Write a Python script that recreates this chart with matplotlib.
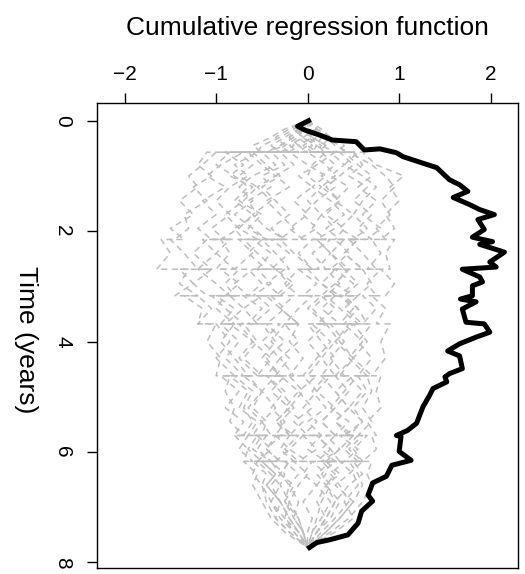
import matplotlib
matplotlib.use('Agg')
import matplotlib.pyplot as plt
import numpy as np

plt.rcParams['font.family'] = ['Liberation Sans', 'DejaVu Sans']

# observed cumulative regression function (value, time)
obs_value = [0.01, -0.11, -0.03, 0.13, 0.27, 0.53, 0.62, 0.79, 0.97, 1.04, 1.26, 1.41,
             1.55, 1.66, 1.75, 1.59, 1.77, 1.88, 2.04, 1.86, 1.93, 1.80, 2.02, 1.88,
             2.15, 1.99, 2.06, 1.69, 1.88, 1.91, 1.80, 1.80, 1.67, 1.84, 1.69, 1.73,
             1.93, 1.99, 1.84, 1.66, 1.53, 1.66, 1.69, 1.55, 1.50, 1.52, 1.37, 1.33,
             1.26, 1.19, 1.09, 0.97, 1.02, 1.00, 1.13, 0.92, 0.86, 0.71, 0.66, 0.71,
             0.59, 0.55, 0.44, 0.24, 0.10, 0.02]
obs_time = [0.00, 0.10, 0.17, 0.26, 0.35, 0.38, 0.53, 0.51, 0.58, 0.65, 0.77, 0.85,
            1.07, 1.16, 1.28, 1.39, 1.52, 1.61, 1.70, 1.79, 1.97, 2.11, 2.19, 2.24,
            2.38, 2.56, 2.65, 2.69, 2.83, 2.92, 2.99, 3.17, 3.23, 3.28, 3.41, 3.65,
            3.68, 3.83, 3.92, 4.04, 4.17, 4.26, 4.49, 4.58, 4.64, 4.73, 4.85, 4.98,
            5.18, 5.48, 5.61, 5.70, 5.72, 5.99, 6.15, 6.24, 6.44, 6.56, 6.78, 6.89,
            7.07, 7.29, 7.50, 7.59, 7.64, 7.73]

# time grid of the resampled paths (repeated times are common jumps)
sim_time = [0, 0.15, 0.3, 0.45, 0.57, 0.57, 0.8, 1.0, 1.2, 1.45, 1.7, 1.95, 2.15, 2.15,
            2.4, 2.69, 2.69, 2.95, 3.17, 3.17, 3.4, 3.68, 3.68, 4.0, 4.3, 4.62, 4.62,
            4.9, 5.2, 5.45, 5.7, 5.7, 5.95, 6.17, 6.17, 6.4, 6.6, 6.9, 7.2, 7.45, 7.73]

sim_paths = [
    [0, -0.15, -0.3, -0.5, -0.55, -1.1, -1.2, -1.05, -1.25, -1.1, -1.35, -1.3, -1.45, -1.6, -1.5, -1.65, -1.3, -1.4, -1.2, -1.35, -1.15, -1.2, -1.0, -1.1, -0.95, -1.0, -0.85, -0.9, -0.8, -0.85, -0.7, -0.8, -0.65, -0.7, -0.55, -0.6, -0.5, -0.45, -0.35, -0.2, 0],
    [0, 0.1, 0.2, 0.35, 0.4, 0.6, 0.75, 1.05, 0.9, 1.0, 0.85, 0.95, 0.8, 0.95, 0.85, 0.9, 0.8, 0.95, 0.85, 0.7, 0.85, 0.75, 0.9, 0.8, 0.85, 0.7, 0.8, 0.75, 0.8, 0.65, 0.75, 0.7, 0.75, 0.6, 0.7, 0.65, 0.7, 0.6, 0.45, 0.25, 0],
    [0, -0.1, 0.05, -0.1, 0.0, -0.4, -0.25, -0.5, -0.4, -0.65, -0.55, -0.8, -0.7, -0.95, -0.85, -1.0, -0.75, -0.9, -0.8, -1.05, -0.9, -0.7, -0.85, -0.6, -0.75, -0.55, -0.7, -0.5, -0.6, -0.45, -0.5, -0.35, -0.45, -0.3, -0.4, -0.25, -0.3, -0.2, -0.25, -0.1, 0],
    [0, 0.05, 0.15, 0.1, 0.2, 0.0, 0.2, 0.3, 0.15, 0.35, 0.2, 0.4, 0.3, 0.1, 0.25, 0.45, 0.3, 0.5, 0.35, 0.55, 0.4, 0.6, 0.45, 0.3, 0.5, 0.35, 0.55, 0.4, 0.25, 0.45, 0.3, 0.5, 0.35, 0.2, 0.4, 0.25, 0.35, 0.45, 0.3, 0.15, 0],
    [0, -0.2, -0.35, -0.25, -0.45, -0.9, -0.7, -0.85, -0.6, -0.75, -0.5, -0.65, -0.45, -0.7, -0.55, -0.35, -0.55, -0.4, -0.6, -0.4, -0.25, -0.45, -0.3, -0.5, -0.3, -0.45, -0.25, -0.4, -0.2, -0.35, -0.15, -0.3, -0.45, -0.3, -0.5, -0.35, -0.45, -0.3, -0.35, -0.2, 0],
    [0, 0.1, -0.05, 0.1, 0.05, 0.3, 0.1, -0.1, 0.05, -0.15, 0.0, -0.2, -0.05, -0.3, -0.15, 0.05, -0.1, 0.1, -0.05, 0.15, 0.0, 0.2, 0.05, 0.25, 0.1, -0.05, 0.1, -0.1, 0.05, -0.15, 0.0, 0.15, 0.0, 0.2, 0.05, 0.2, 0.1, 0.25, 0.15, 0.05, 0],
    [0, -0.1, -0.25, -0.4, -0.3, -0.7, -0.95, -1.1, -0.9, -1.15, -1.0, -1.2, -1.05, -0.85, -1.0, -1.2, -1.05, -1.25, -1.1, -0.9, -1.0, -0.8, -0.95, -0.75, -0.9, -0.7, -0.85, -0.65, -0.75, -0.55, -0.65, -0.5, -0.6, -0.4, -0.5, -0.35, -0.45, -0.3, -0.2, -0.1, 0],
    [0, 0.15, 0.25, 0.4, 0.3, 0.5, 0.6, 0.45, 0.65, 0.5, 0.7, 0.55, 0.7, 0.55, 0.4, 0.6, 0.45, 0.3, 0.5, 0.35, 0.55, 0.4, 0.2, 0.35, 0.5, 0.3, 0.45, 0.6, 0.45, 0.6, 0.4, 0.55, 0.4, 0.55, 0.35, 0.5, 0.55, 0.4, 0.5, 0.3, 0],
    [0, -0.05, -0.2, -0.1, -0.2, -0.6, -0.45, -0.3, -0.5, -0.35, -0.2, -0.4, -0.25, -0.5, -0.65, -0.45, -0.6, -0.8, -0.65, -0.5, -0.7, -0.55, -0.75, -0.6, -0.4, -0.55, -0.35, -0.5, -0.65, -0.5, -0.6, -0.45, -0.55, -0.4, -0.55, -0.4, -0.3, -0.4, -0.25, -0.15, 0],
    [0, 0.05, 0.0, 0.15, 0.1, -0.2, 0.0, 0.2, 0.05, 0.25, 0.4, 0.2, 0.35, 0.55, 0.4, 0.6, 0.45, 0.3, 0.15, 0.3, 0.15, 0.35, 0.2, 0.0, 0.15, 0.0, 0.2, 0.05, 0.2, 0.0, 0.15, -0.05, 0.1, -0.1, 0.05, -0.05, 0.1, -0.05, 0.05, 0.0, 0],
    [0, -0.25, -0.4, -0.6, -0.5, -1.0, -1.15, -1.3, -1.2, -1.4, -1.25, -1.5, -1.35, -1.5, -1.35, -1.2, -1.4, -1.25, -1.45, -1.2, -1.05, -1.2, -1.0, -0.85, -1.0, -0.8, -0.95, -0.75, -0.9, -0.7, -0.8, -0.65, -0.75, -0.6, -0.7, -0.55, -0.6, -0.5, -0.4, -0.25, 0],
    [0, 0.05, 0.2, 0.3, 0.45, 0.55, 0.4, 0.6, 0.75, 0.6, 0.5, 0.65, 0.5, 0.3, 0.45, 0.25, 0.4, 0.55, 0.4, 0.2, 0.35, 0.55, 0.4, 0.6, 0.45, 0.65, 0.5, 0.3, 0.45, 0.3, 0.5, 0.35, 0.55, 0.4, 0.6, 0.45, 0.3, 0.5, 0.35, 0.2, 0],
    [0, -0.15, -0.05, -0.2, -0.1, -0.5, -0.35, -0.6, -0.75, -0.6, -0.8, -0.6, -0.45, -0.6, -0.4, -0.55, -0.35, -0.2, -0.35, -0.15, -0.3, -0.1, -0.25, -0.1, -0.3, -0.15, -0.3, -0.1, -0.25, -0.05, -0.2, -0.05, -0.2, 0.0, -0.15, 0.0, -0.1, -0.2, -0.1, -0.05, 0],
    [0, 0.1, 0.05, 0.2, 0.15, 0.4, 0.55, 0.7, 0.55, 0.75, 0.6, 0.8, 0.65, 0.45, 0.6, 0.75, 0.6, 0.7, 0.55, 0.4, 0.55, 0.65, 0.5, 0.65, 0.5, 0.7, 0.55, 0.65, 0.5, 0.6, 0.45, 0.6, 0.45, 0.6, 0.5, 0.6, 0.45, 0.3, 0.2, 0.1, 0],
    [0, -0.05, -0.15, -0.3, -0.2, -0.75, -0.6, -0.75, -0.55, -0.7, -0.9, -0.75, -0.95, -1.15, -1.0, -0.8, -0.95, -0.75, -0.9, -0.7, -0.5, -0.65, -0.5, -0.35, -0.5, -0.3, -0.45, -0.25, -0.4, -0.25, -0.35, -0.2, -0.3, -0.15, -0.25, -0.1, -0.2, -0.1, -0.15, -0.05, 0],
    [0, 0.0, 0.1, -0.05, 0.05, 0.2, 0.05, 0.0, 0.15, 0.0, 0.15, 0.05, 0.2, 0.05, -0.1, 0.05, -0.1, -0.25, -0.1, 0.05, -0.1, -0.25, -0.1, -0.2, -0.05, -0.2, -0.05, 0.1, -0.05, 0.1, -0.05, 0.1, 0.25, 0.1, 0.25, 0.1, 0.2, 0.1, 0.2, 0.1, 0],
    [0, -0.1, -0.2, -0.15, -0.3, -0.55, -0.8, -0.65, -0.85, -1.0, -0.85, -1.05, -0.9, -1.1, -1.25, -1.05, -1.2, -1.0, -0.85, -1.0, -0.8, -0.95, -0.8, -0.95, -0.8, -0.65, -0.8, -0.6, -0.7, -0.6, -0.7, -0.55, -0.65, -0.5, -0.6, -0.45, -0.5, -0.4, -0.3, -0.15, 0],
    [0, 0.05, 0.1, 0.0, 0.1, 0.35, 0.5, 0.35, 0.2, 0.35, 0.15, 0.3, 0.1, 0.25, 0.05, 0.2, 0.0, 0.15, 0.3, 0.15, 0.3, 0.1, 0.25, 0.4, 0.25, 0.4, 0.25, 0.1, 0.3, 0.15, 0.3, 0.2, 0.35, 0.15, 0.3, 0.15, 0.25, 0.15, 0.1, 0.05, 0],
    [0, -0.05, -0.1, -0.25, -0.35, -0.65, -0.5, -0.35, -0.55, -0.4, -0.6, -0.45, -0.25, -0.4, -0.2, -0.4, -0.25, -0.45, -0.3, -0.55, -0.4, -0.6, -0.45, -0.25, -0.45, -0.3, -0.45, -0.3, -0.15, -0.3, -0.2, -0.35, -0.2, -0.35, -0.2, -0.3, -0.2, -0.25, -0.1, -0.05, 0],
    [0, 0.1, 0.25, 0.15, 0.3, 0.45, 0.7, 0.85, 0.95, 0.8, 0.9, 0.75, 0.85, 0.7, 0.8, 0.65, 0.8, 0.65, 0.75, 0.6, 0.75, 0.6, 0.7, 0.55, 0.7, 0.55, 0.65, 0.7, 0.6, 0.7, 0.55, 0.65, 0.5, 0.6, 0.45, 0.55, 0.6, 0.5, 0.35, 0.2, 0],
    [0, -0.05, -0.1, 0.0, -0.1, -0.3, -0.15, -0.35, -0.2, -0.45, -0.3, -0.15, -0.3, -0.5, -0.35, -0.2, -0.35, -0.15, -0.3, -0.45, -0.3, -0.1, -0.25, -0.4, -0.2, -0.35, -0.2, -0.05, -0.2, -0.35, -0.2, -0.1, -0.25, -0.1, -0.2, -0.3, -0.15, -0.25, -0.15, -0.05, 0],
    [0, 0.05, -0.05, 0.05, -0.05, 0.15, 0.3, 0.15, 0.3, 0.1, -0.05, 0.1, -0.1, 0.1, 0.25, 0.1, 0.3, 0.15, 0.35, 0.2, 0.05, 0.2, 0.0, 0.15, 0.3, 0.15, 0.3, 0.45, 0.3, 0.15, 0.3, 0.1, 0.25, 0.35, 0.2, 0.35, 0.2, 0.3, 0.2, 0.1, 0],
    [0, -0.1, -0.15, -0.3, -0.45, -0.85, -1.0, -0.8, -0.65, -0.8, -0.6, -0.75, -0.55, -0.75, -0.6, -0.8, -0.65, -0.5, -0.65, -0.85, -0.7, -0.9, -0.7, -0.55, -0.7, -0.5, -0.65, -0.5, -0.35, -0.5, -0.4, -0.55, -0.4, -0.55, -0.4, -0.3, -0.4, -0.3, -0.2, -0.1, 0],
    [0, 0.0, 0.05, 0.2, 0.1, 0.25, 0.4, 0.25, 0.45, 0.3, 0.5, 0.35, 0.55, 0.4, 0.25, 0.4, 0.2, 0.35, 0.2, 0.35, 0.5, 0.35, 0.5, 0.3, 0.15, 0.3, 0.15, 0.3, 0.45, 0.3, 0.45, 0.3, 0.15, 0.3, 0.15, 0.3, 0.2, 0.35, 0.25, 0.1, 0],
]

x_ticks = [-2, -1, 0, 1, 2]
y_ticks = [0, 2, 4, 6, 8]

fig = plt.figure(figsize=(5.25, 5.74), dpi=100)
ax = fig.add_axes([0.185, 0.0105, 0.802, 0.810])

for path in sim_paths:
    ax.plot(path, sim_time, color='#BEBEBE', lw=1.1, dashes=(4, 3))

ax.plot(obs_value, obs_time, color='black', lw=3.6, solid_joinstyle='round')

ax.set_xlim(-2.3, 2.3)
ax.set_ylim(8.1, -0.32)
ax.xaxis.tick_top()
ax.set_xticks(x_ticks)
ax.set_yticks(y_ticks)
ax.tick_params(axis='both', labelsize=15, length=7, width=1.0)
ax.tick_params(axis='x', pad=7)
ax.tick_params(axis='y', pad=11)
for lab in ax.get_yticklabels():
    lab.set_rotation(-90)
    lab.set_va('center')
for sp in ax.spines.values():
    sp.set_linewidth(1.0)

fig.text(307.5 / 525, 1 - 28 / 574, 'Cumulative regression function',
         fontsize=19, ha='center', va='center')
fig.text(26 / 525, 1 - 340 / 574, 'Time (years)', fontsize=19,
         rotation=-90, ha='center', va='center')

fig.savefig('out.png', dpi=100)
